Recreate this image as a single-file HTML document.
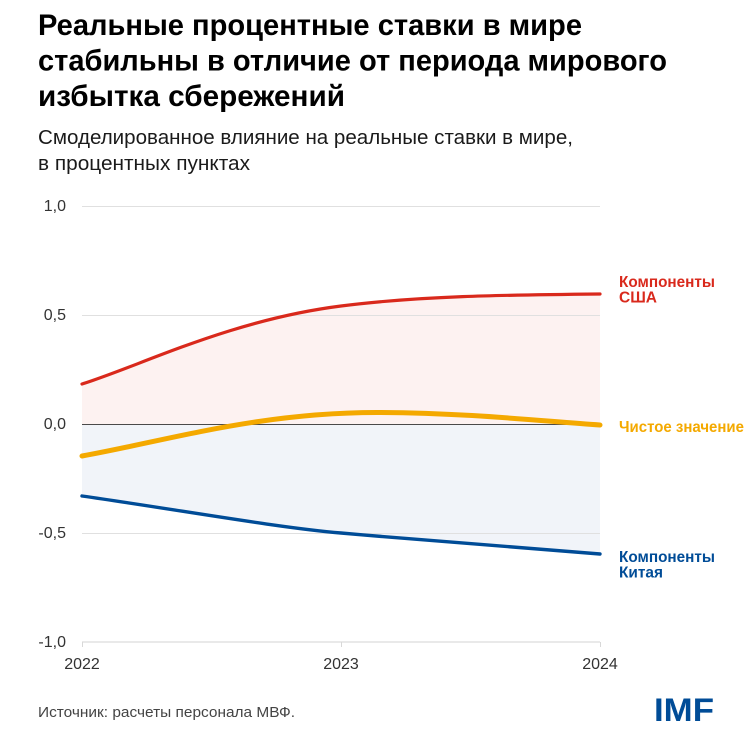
<!DOCTYPE html>
<html>
<head>
<meta charset="utf-8">
<style>
  html, body { margin: 0; padding: 0; background: #ffffff; }
  svg { display: block; }
  text { font-family: "Liberation Sans", "DejaVu Sans", sans-serif; }
</style>
</head>
<body>
<svg width="750" height="750" viewBox="0 0 750 750" xmlns="http://www.w3.org/2000/svg">
  <rect x="0" y="0" width="750" height="750" fill="#ffffff"/>

  <!-- Title -->
  <text x="38" y="35" font-size="29.5" font-weight="bold" fill="#000" textLength="544" lengthAdjust="spacingAndGlyphs">Реальные процентные ставки в мире</text>
  <text x="38" y="70.5" font-size="29.5" font-weight="bold" fill="#000" textLength="629" lengthAdjust="spacingAndGlyphs">стабильны в отличие от периода мирового</text>
  <text x="38" y="106" font-size="29.5" font-weight="bold" fill="#000" textLength="307" lengthAdjust="spacingAndGlyphs">избытка сбережений</text>

  <!-- Subtitle -->
  <text x="38" y="144" font-size="20" fill="#1a1a1a" textLength="535" lengthAdjust="spacingAndGlyphs">Смоделированное влияние на реальные ставки в мире,</text>
  <text x="38" y="170" font-size="20" fill="#1a1a1a" textLength="212" lengthAdjust="spacingAndGlyphs">в процентных пунктах</text>

  <!-- Fills -->
  <path d="M82,384 C140,366 230,320 341,306 C420,296 500,295 600,294 L600,424 L82,424 Z" fill="#fdf2f1"/>
  <path d="M82,496 C180,510 280,528 341,533 C430,541 520,548 600,554 L600,424 L82,424 Z" fill="#f1f4f9"/>

  <!-- Gridlines -->
  <line x1="82" y1="206.5" x2="600" y2="206.5" stroke="#e0e0e0" stroke-width="1"/>
  <line x1="82" y1="315.5" x2="600" y2="315.5" stroke="#e0e0e0" stroke-width="1"/>
  <line x1="82" y1="533.5" x2="600" y2="533.5" stroke="#e0e0e0" stroke-width="1"/>
  <line x1="82" y1="642" x2="600" y2="642" stroke="#e2e2e2" stroke-width="1.5"/>
  <line x1="82.5" y1="642" x2="82.5" y2="647" stroke="#d8d8d8" stroke-width="1"/>
  <line x1="341.5" y1="642" x2="341.5" y2="647" stroke="#d8d8d8" stroke-width="1"/>
  <line x1="600.5" y1="642" x2="600.5" y2="647" stroke="#d8d8d8" stroke-width="1"/>
  <!-- zero line -->
  <line x1="82" y1="424.5" x2="600" y2="424.5" stroke="#4a4a4a" stroke-width="1"/>

  <!-- Y tick labels -->
  <g font-size="16" fill="#333" text-anchor="end">
    <text x="66" y="211">1,0</text>
    <text x="66" y="320">0,5</text>
    <text x="66" y="429">0,0</text>
    <text x="66" y="538">-0,5</text>
    <text x="66" y="647">-1,0</text>
  </g>

  <!-- X tick labels -->
  <g font-size="16" fill="#333" text-anchor="middle">
    <text x="82" y="669">2022</text>
    <text x="341" y="669">2023</text>
    <text x="600" y="669">2024</text>
  </g>

  <!-- Series -->
  <path d="M82,384 C140,366 230,320 341,306 C420,296 500,295 600,294" fill="none" stroke="#d9291c" stroke-width="3.2" stroke-linecap="round"/>
  <path d="M82,496 C180,510 280,528 341,533 C430,541 520,548 600,554" fill="none" stroke="#004c97" stroke-width="3.4" stroke-linecap="round"/>
  <path d="M82,456 C170,440 260,412 380,412.5 C470,413 540,421 600,425" fill="none" stroke="#f4a900" stroke-width="5" stroke-linecap="round"/>

  <!-- Series labels -->
  <g font-size="15.5" font-weight="bold">
    <text x="619" y="287" fill="#d9291c" textLength="96" lengthAdjust="spacingAndGlyphs">Компоненты</text>
    <text x="619" y="302.5" fill="#d9291c" textLength="38" lengthAdjust="spacingAndGlyphs">США</text>
    <text x="619" y="432" fill="#f4a900" textLength="125" lengthAdjust="spacingAndGlyphs">Чистое значение</text>
    <text x="619" y="562" fill="#004c97" textLength="96" lengthAdjust="spacingAndGlyphs">Компоненты</text>
    <text x="619" y="577.5" fill="#004c97" textLength="44" lengthAdjust="spacingAndGlyphs">Китая</text>
  </g>

  <!-- Source -->
  <text x="38" y="717" font-size="15" fill="#444" textLength="257" lengthAdjust="spacingAndGlyphs">Источник: расчеты персонала МВФ.</text>

  <!-- IMF logo -->
  <text x="654" y="721" font-size="32" font-weight="bold" fill="#004c97" textLength="60" lengthAdjust="spacingAndGlyphs">IMF</text>
</svg>
</body>
</html>
